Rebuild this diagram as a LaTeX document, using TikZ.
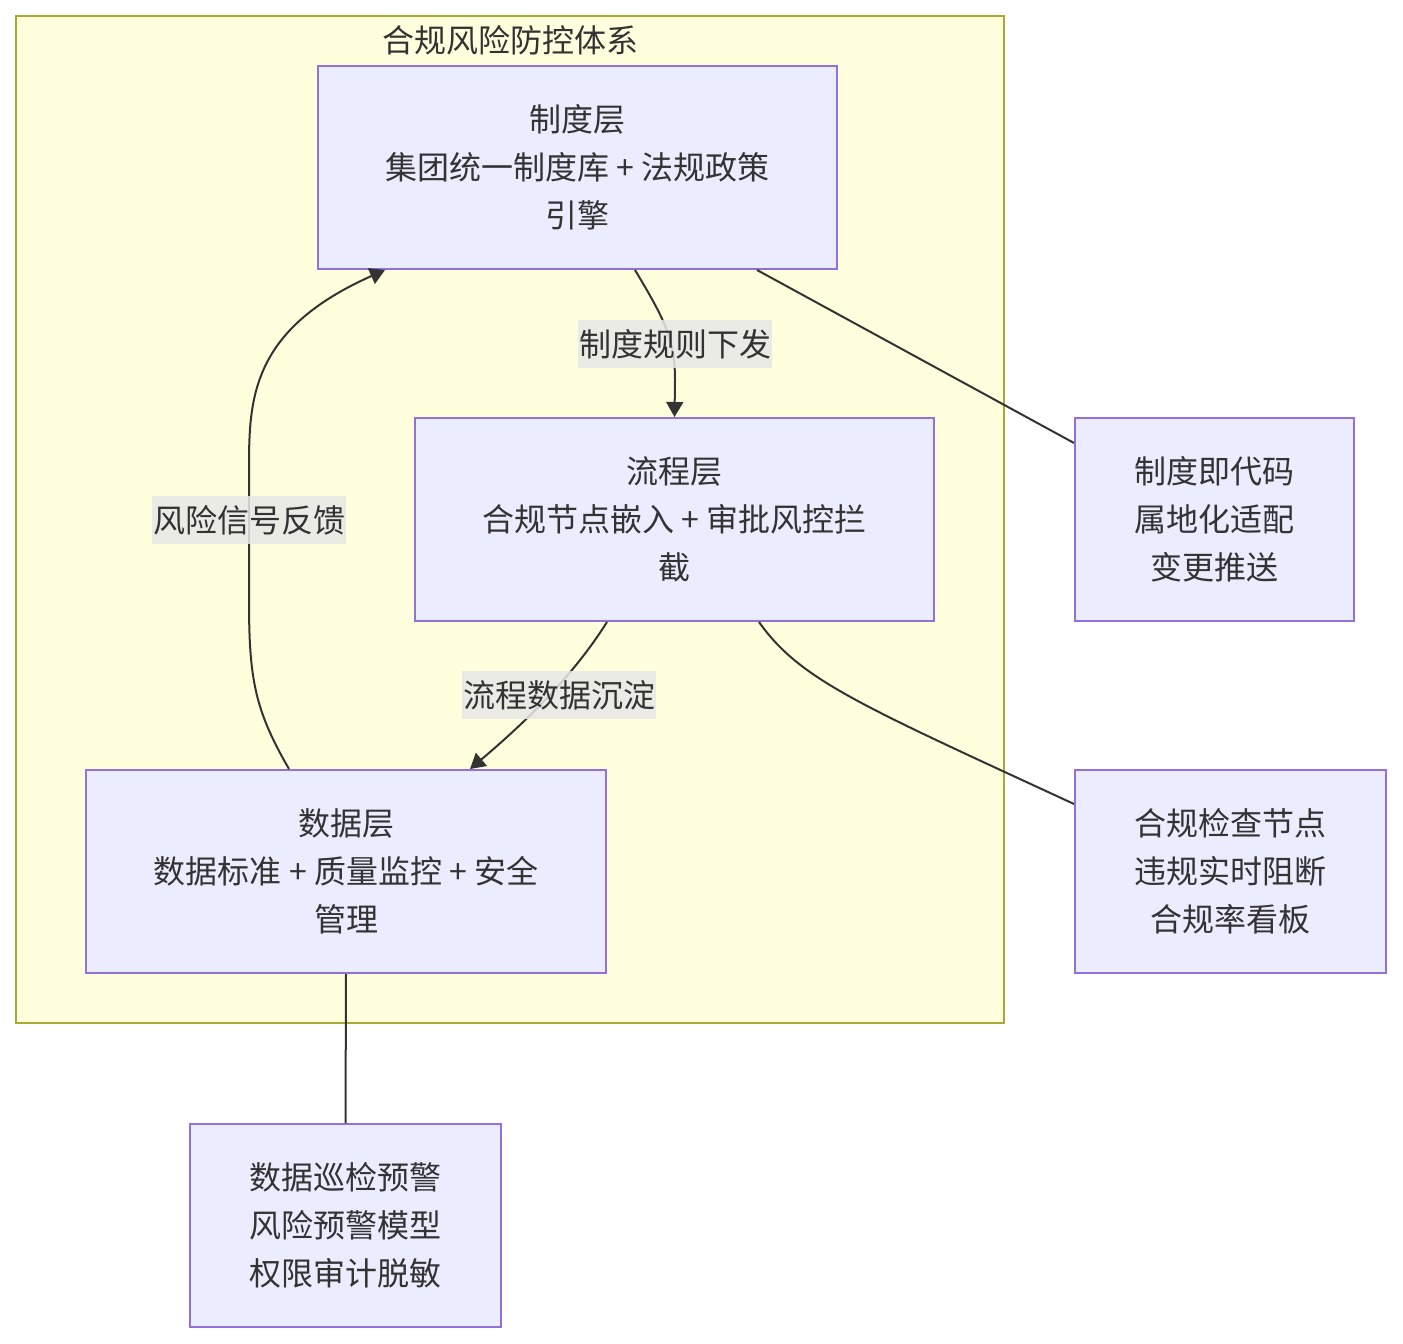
\documentclass[tikz,border=0pt]{standalone}
\usepackage{fontspec}
\newfontfamily\cjk{Noto Sans CJK SC}
\usetikzlibrary{arrows.meta}
\definecolor{clfill}{HTML}{FFFFDE}
\definecolor{cldraw}{HTML}{AAAA33}
\definecolor{ndfill}{HTML}{ECECFF}
\definecolor{nddraw}{HTML}{9370DB}
\definecolor{txt}{HTML}{333333}
\definecolor{lbl}{HTML}{E8E8E8}
\tikzset{
  box/.style={draw=nddraw, fill=ndfill, line width=2pt, inner sep=0pt, align=center,
    text=txt, font=\cjk\fontsize{32}{48}\selectfont},
  conn/.style={draw=txt, line width=2pt},
  arr/.style={conn, -{Triangle[width=17pt,length=15pt]}},
  elabel/.style={fill=lbl, fill opacity=0.85, text opacity=1, text=txt, inner xsep=1pt, inner ysep=0pt,
    minimum height=48pt, font=\cjk\fontsize{32}{48}\selectfont},
}
\begin{document}
\begin{tikzpicture}[x=1pt,y=-1pt]
\useasboundingbox (0,0) rectangle (1403,1344);
\fill[white] (0,0) rectangle (1403,1344);
% cluster
\draw[draw=cldraw, fill=clfill, line width=2pt] (16,16) rectangle (1004,1023);
\node[text=txt, font=\cjk\fontsize{32}{48}\selectfont, inner sep=0pt] (cltitle) at (510,40) {合规风险防控体系};
% nodes
\node[box, minimum width=519pt, minimum height=203pt] (zhidu) at (577.5,167.5) {制度层\\集团统一制度库 + 法规政策\\引擎};
\node[box, minimum width=519pt, minimum height=203pt] (liucheng) at (674.5,519.5) {流程层\\合规节点嵌入 + 审批风控拦\\截};
\node[box, minimum width=520pt, minimum height=203pt] (shuju) at (346,871.5) {数据层\\数据标准 + 质量监控 + 安全\\管理};
\node[box, minimum width=279pt, minimum height=203pt] (dm) at (1214.5,519.5) {制度即代码\\属地化适配\\变更推送};
\node[box, minimum width=311pt, minimum height=203pt] (hg) at (1230.5,871.5) {合规检查节点\\违规实时阻断\\合规率看板};
\node[box, minimum width=311pt, minimum height=203pt] (xj) at (345.5,1225.5) {数据巡检预警\\风险预警模型\\权限审计脱敏};
% connectors
\draw[arr] ([xshift=57.5pt]zhidu.south) .. controls (665,320) and (675,340) .. (675,380) -- (liucheng.north);
\draw[arr] ([xshift=-67.5pt]liucheng.south) .. controls (580,665) and (540,710) .. ([xshift=124pt]shuju.north);
\draw[arr] ([xshift=-57pt]shuju.north) .. controls (255,710) and (249,680) .. (249,600) -- (249,470) .. controls (249,400) and (250,330) .. ([xshift=-192.5pt]zhidu.south);
\draw[conn] ([xshift=179.5pt]zhidu.south) -- ([yshift=76.5pt]dm.west);
\draw[conn] ([xshift=84.5pt]liucheng.south) .. controls (800,680) and (860,705) .. ([yshift=67.5pt]hg.west);
\draw[conn] (shuju.south) -- (xj.north);
% labels
\node[elabel] (l1) at (675,344) {制度规则下发};
\node[elabel] (l2) at (559,695) {流程数据沉淀};
\node[elabel] (l3) at (249,520) {风险信号反馈};
\end{tikzpicture}
\end{document}
